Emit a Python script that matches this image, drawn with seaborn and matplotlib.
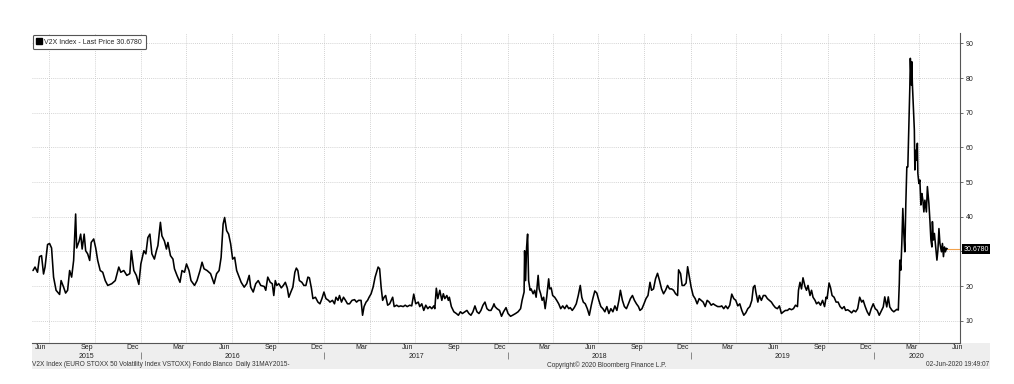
"""
V2X (VSTOXX) index, Bloomberg style line chart, 31-May-2015 to 02-Jun-2020
"""
import pandas as pd
import seaborn as sns
import matplotlib
matplotlib.use('Agg')
from matplotlib import pyplot as plt
import matplotlib.dates as mdates
from matplotlib.lines import Line2D
from matplotlib.patches import Rectangle
from matplotlib.ticker import FixedLocator, FixedFormatter, NullFormatter

sns.set_style('white')
plt.rcParams['font.family'] = ['Liberation Sans', 'DejaVu Sans']

# ---- data ----
start_date = '2015-05-31'
# days after 31-May-2015
days = [
    0, 4, 9, 13, 17, 21, 24, 29, 33, 37, 41, 46, 53, 56, 61, 65, 69, 73, 77, 81,
    85, 87, 92, 95, 98, 102, 105, 109, 113, 116, 121, 125, 129, 134, 139, 144, 149, 157, 164, 171,
    175, 181, 187, 193, 196, 201, 206, 211, 215, 221, 225, 229, 233, 237, 242, 246, 249, 254, 257, 262,
    266, 269, 274, 279, 282, 287, 293, 297, 302, 306, 311, 315, 322, 327, 333, 337, 341, 347, 354, 361,
    366, 371, 375, 379, 382, 386, 390, 394, 398, 402, 406, 411, 415, 421, 426, 431, 434, 439, 444, 449,
    454, 461, 464,
    465, 468, 473, 477, 480, 483, 486, 490, 495, 499, 503, 507, 510, 514, 518, 522, 525, 528, 531, 536,
    540, 544, 548, 551, 555, 558, 563, 568, 572, 576, 580, 584, 589, 592, 597, 601, 604, 608, 611, 615,
    619, 623, 627, 631, 636, 641, 645, 649, 654, 657, 660, 664, 667, 670, 674, 678, 682, 685, 688, 691,
    694, 697, 700, 703, 707, 711, 717, 720, 725, 729, 733, 738, 742, 746, 751, 755, 759, 763, 768, 771,
    775, 779, 783, 787, 791, 795, 799, 801, 804, 807, 811, 815, 818, 821, 825, 828, 830, 834, 839, 844,
    848, 852, 856, 861, 865, 869, 873, 877, 881, 885, 889, 893, 897, 901, 905, 909, 913, 917, 919,
    921, 925, 930, 934, 938, 943, 947, 952, 956, 962, 967, 972, 975, 979, 980, 982, 984, 986, 988, 991,
    993, 997, 1000, 1003, 1007, 1009, 1012, 1015, 1018, 1021, 1024, 1028, 1030, 1033, 1036, 1040, 1044, 1048, 1052, 1056,
    1060, 1064, 1068, 1071, 1075, 1079, 1083, 1087, 1091, 1094, 1097, 1101, 1105, 1109, 1113, 1116, 1120, 1124, 1128, 1132,
    1136, 1140, 1144, 1148, 1152, 1156, 1160, 1164, 1168, 1171, 1175, 1179, 1183, 1187, 1191, 1195, 1199, 1203, 1207, 1210,
    1214, 1218, 1222, 1226, 1230, 1233, 1237, 1241, 1245, 1249, 1253, 1257, 1261, 1265, 1269, 1273, 1277, 1281, 1285, 1287,
    1291, 1294, 1298, 1302, 1305, 1308, 1312, 1316, 1320, 1324, 1328, 1332, 1336, 1340, 1344, 1348, 1352, 1356, 1360, 1365,
    1370, 1373, 1377, 1381, 1385, 1389, 1393, 1397, 1401, 1405, 1409, 1413, 1417, 1421, 1425, 1429, 1433, 1436, 1439, 1441,
    1445, 1448, 1452, 1456, 1460, 1464, 1468, 1472, 1476, 1480, 1484, 1488, 1492, 1496, 1500, 1504, 1508, 1512, 1516, 1520,
    1524, 1526, 1529, 1532, 1535, 1539, 1542, 1545, 1549, 1552, 1555, 1559, 1562, 1566, 1570, 1574, 1578, 1581, 1583, 1587,
    1590, 1593, 1597, 1601, 1605, 1609, 1613, 1617, 1620, 1624, 1628, 1632, 1636, 1640, 1644, 1648, 1652, 1655, 1659, 1663,
    1667, 1671, 1675, 1679, 1683, 1687,
    1695, 1698, 1702, 1705, 1708, 1712, 1716, 1722, 1725, 1727, 1728, 1730, 1732, 1734, 1736, 1738, 1740, 1742, 1744, 1746,
    1748, 1749, 1751, 1752, 1753, 1755, 1757, 1758, 1760, 1761, 1763, 1764, 1766, 1768, 1770, 1772, 1774, 1776, 1778, 1781,
    1783, 1786, 1788, 1790, 1792, 1793, 1795, 1797, 1800, 1802, 1804, 1806, 1808, 1811, 1813, 1815, 1817, 1819, 1821, 1823,
]
v2x = [
    24.5, 25.5, 24.0, 28.5, 28.8, 23.5, 25.5, 32.0, 32.3, 31.0, 22.6, 18.8, 17.6, 21.6, 19.7, 18.0, 18.8, 24.5, 22.6, 27.4,
    40.8, 31.0, 33.0, 35.0, 30.7, 35.0, 30.2, 29.3, 27.4, 32.6, 33.6, 31.0, 27.4, 24.5, 24.0, 21.6, 20.2, 20.7, 21.6, 25.5,
    24.0, 24.5, 23.1, 23.6, 30.2, 24.5, 23.1, 20.5, 26.4, 30.2, 29.3, 34.0, 35.0, 29.3, 27.8, 30.2, 31.7, 38.4, 34.5, 33.0,
    30.7, 32.6, 28.8, 27.8, 25.0, 23.1, 21.1, 24.5, 24.0, 26.4, 24.5, 21.6, 20.2, 21.6, 24.5, 26.9, 25.0, 24.5, 23.6, 20.7,
    23.6, 24.5, 28.3, 37.9, 39.8, 36.0, 35.0, 32.2, 27.8, 28.3, 24.5, 22.6, 21.1, 19.7, 20.7, 23.1, 19.7, 18.3, 20.7, 21.6,
    20.2, 19.9, 18.8,
    19.7, 22.6, 21.1, 20.7, 17.3, 21.6, 20.2, 20.7, 19.5, 20.2, 21.1, 19.4, 16.8, 18.3, 19.7, 24.0, 25.2, 24.5, 21.6, 21.1,
    20.2, 20.2, 22.6, 22.4, 19.4, 16.4, 16.8, 15.4, 14.9, 16.4, 18.3, 16.4, 15.9, 15.4, 15.9, 14.9, 16.8, 15.9, 17.3, 15.4,
    16.8, 15.9, 14.9, 14.9, 15.9, 16.1, 15.4, 15.9, 15.9, 11.6, 14.1, 15.4, 15.9, 16.8, 17.8, 19.7, 22.6, 24.0, 25.5, 25.0,
    19.7, 15.9, 16.8, 17.3, 14.5, 14.9, 16.8, 14.1, 14.5, 14.1, 14.3, 14.1, 14.5, 14.1, 14.5, 14.3, 17.7, 14.9, 15.4, 14.1,
    14.9, 13.0, 14.5, 13.5, 14.1, 13.5, 14.3, 13.5, 19.4, 16.4, 18.8, 15.9, 17.8, 16.4, 17.3, 15.9, 16.8, 14.1, 12.6, 12.1,
    11.6, 12.6, 12.1, 12.6, 13.0, 12.1, 11.6, 12.6, 14.3, 12.6, 12.1, 13.0, 14.5, 15.4, 13.5, 13.0, 13.0, 14.1, 14.9,
    14.1, 13.5, 13.0, 11.3, 12.6, 13.8, 12.1, 11.3, 11.6, 12.1, 12.6, 13.5, 15.9, 18.3, 30.2, 21.6, 31.2, 35.0, 21.6, 18.8,
    19.2, 17.8, 18.8, 16.8, 23.1, 19.2, 17.8, 15.9, 16.8, 13.5, 16.8, 22.1, 19.2, 19.5, 17.3, 16.8, 15.9, 14.9, 13.5, 14.3,
    13.5, 14.5, 13.5, 13.8, 13.0, 13.8, 14.9, 17.3, 20.2, 16.8, 15.4, 14.9, 13.5, 11.6, 14.5, 16.4, 18.6, 18.0, 15.9, 14.1,
    13.5, 12.6, 14.1, 12.1, 13.5, 12.6, 14.3, 13.0, 15.9, 18.8, 15.9, 14.1, 13.5, 14.9, 16.4, 17.3, 15.9, 14.9, 14.1, 13.0,
    13.5, 14.9, 16.4, 17.3, 21.1, 18.8, 19.2, 22.1, 23.7, 21.6, 19.2, 17.8, 18.8, 20.2, 19.2, 19.2, 18.8, 17.8, 17.3, 24.7,
    23.6, 20.2, 20.2, 20.9, 25.6, 23.1, 19.7, 17.3, 16.4, 14.9, 16.4, 15.9, 15.4, 14.1, 15.9, 15.4, 14.5, 14.9, 14.5, 14.1,
    14.1, 14.3, 13.5, 14.3, 13.5, 14.5, 17.7, 16.4, 15.9, 14.3, 14.9, 13.0, 11.6, 12.3, 13.5, 14.1, 15.9, 19.7, 20.2, 18.3,
    15.4, 17.3, 15.9, 17.3, 17.3, 16.4, 15.9, 15.4, 14.5, 13.8, 13.5, 14.3, 12.1, 12.6, 13.0, 13.0, 13.5, 13.2, 13.5, 14.5,
    14.1, 18.8, 21.1, 19.2, 22.4, 19.9, 18.8, 20.2, 17.3, 18.8, 16.8, 15.9, 14.9, 15.4, 14.5, 15.9, 14.1, 16.8, 16.4, 20.9,
    19.5, 17.3, 16.8, 15.4, 15.4, 14.1, 13.5, 14.1, 13.0, 13.2, 12.8, 12.3, 13.0, 12.6, 13.5, 16.8, 15.4, 15.9, 14.1, 12.6,
    11.6, 13.5, 14.9, 13.5, 13.0, 11.6,
    14.0, 16.9, 14.0, 16.9, 14.0, 13.1, 12.6, 13.3, 13.1, 20.8, 27.5, 24.6, 32.3, 42.4, 35.2, 29.9, 43.8, 54.4, 54.4, 66.0,
    77.5, 85.7, 78.0, 84.7, 78.5, 71.7, 65.0, 53.5, 59.2, 56.3, 61.2, 52.5, 49.6, 50.6, 43.4, 46.7, 44.8, 41.4, 44.8, 41.4,
    48.7, 43.8, 39.0, 33.3, 31.3, 38.6, 33.3, 35.2, 30.4, 27.5, 30.4, 36.6, 32.3, 29.9, 32.3, 28.5, 31.3, 29.9, 30.9, 30.678,
]
y_ticks = [10, 20, 30, 40, 50, 60, 70, 80, 90]
label_months = [3, 6, 9, 12]
years = [2015, 2016, 2017, 2018, 2019, 2020]

legend_name = 'V2X Index'
footer_left = 'V2X Index (EURO STOXX 50 Volatility Index VSTOXX) Fondo Blanco  Daily 31MAY2015-'
footer_mid = 'Copyright\u00a9 2020 Bloomberg Finance L.P.'
footer_right = '02-Jun-2020 19:49:07'

FS = 4.8  # small Bloomberg-style text

# ---- frame ----
start = pd.Timestamp(start_date)
df = pd.DataFrame({'date': start + pd.to_timedelta(days, unit='D'), 'v2x': v2x})
last_date = df['date'].iloc[-1]
last = df['v2x'].iloc[-1]
x_left = start - pd.Timedelta(days=2)
x_right = start + pd.Timedelta(days=1848)

W, H = 1014, 384
fig = plt.figure(figsize=(W / 100, H / 100), dpi=100)
ax = fig.add_axes([32 / W, 41 / H, 928 / W, 310 / H])

# grey band under the time axis
fig.add_artist(Rectangle((32 / W, 15 / H), 958 / W, 26 / H, transform=fig.transFigure,
                         facecolor='#eeeeee', edgecolor='none', zorder=-1))

sns.lineplot(data=df, x='date', y='v2x', color='black', linewidth=1.15, ax=ax, legend=False)

ax.set_xlim(x_left, x_right)
ax.set_ylim(3.6, 93)
ax.set_xlabel('')
ax.set_ylabel('')

# y axis on the right; the last-price tag takes the place of the tick label next to it
ax.yaxis.tick_right()
ax.yaxis.set_major_locator(FixedLocator(y_ticks))
ax.yaxis.set_major_formatter(FixedFormatter(
    ['' if abs(t - last) < 4 else str(t) for t in y_ticks]))
ax.tick_params(axis='y', length=2.5, width=0.6, color='#555555', labelsize=FS + 0.2, pad=1.5,
               labelcolor='#222222')

# x axis: grid at quarter starts, small marks at every month start
ax.xaxis.set_major_locator(mdates.MonthLocator(bymonth=[1, 4, 7, 10]))
ax.xaxis.set_minor_locator(mdates.MonthLocator())
ax.xaxis.set_major_formatter(NullFormatter())
ax.xaxis.set_minor_formatter(NullFormatter())
ax.tick_params(axis='x', which='both', length=2, width=0.6, color='#666666', direction='out')

ax.grid(True, which='major', linestyle=(0, (1, 1.5)), color='#c4c4c4', linewidth=0.6)

for side in ['left', 'top']:
    ax.spines[side].set_visible(False)
for side in ['right', 'bottom']:
    ax.spines[side].set_color('#555555')
    ax.spines[side].set_linewidth(0.8)

# month labels centred in Mar / Jun / Sep / Dec
month_pos, month_txt = [], []
for m in pd.date_range(start, x_right, freq='MS'):
    if m.month in label_months:
        mid = m + (m + pd.offsets.MonthBegin(1) - m) / 2
        month_pos.append(mdates.date2num(mid))
        month_txt.append(m.strftime('%b'))
sec_m = ax.secondary_xaxis(0)
sec_m.xaxis.set_major_locator(FixedLocator(month_pos))
sec_m.xaxis.set_major_formatter(FixedFormatter(month_txt))
sec_m.xaxis.set_minor_locator(FixedLocator([]))
sec_m.tick_params(length=0, pad=1.0, labelsize=FS + 0.2, labelcolor='#222222')
sec_m.spines[:].set_visible(False)

# year labels centred in the visible part of each year, separators on 1-Jan
xl, xr = ax.get_xlim()
jan1 = [mdates.date2num(pd.Timestamp(f'{y}-01-01')) for y in years[1:]]
edges = [xl] + jan1 + [xr]
year_pos = [(a + b) / 2 for a, b in zip(edges[:-1], edges[1:])]
sec_y = ax.secondary_xaxis(-0.029)
sec_y.xaxis.set_major_locator(FixedLocator(jan1))
sec_y.xaxis.set_major_formatter(NullFormatter())
sec_y.xaxis.set_minor_locator(FixedLocator(year_pos))
sec_y.xaxis.set_minor_formatter(FixedFormatter([str(y) for y in years]))
sec_y.tick_params(which='major', length=5, width=0.6, color='#777777')
sec_y.tick_params(which='minor', length=0, pad=0.6, labelsize=FS + 0.2, labelcolor='#222222')
sec_y.spines[:].set_visible(False)

# last price line and tag
ax.hlines(last, last_date, x_right, color='#f2a24c', linewidth=0.8)
ax.annotate(f'{last:.4f}', xy=(1, last), xycoords=('axes fraction', 'data'),
            xytext=(2.6, 0), textcoords='offset points', ha='left', va='center',
            fontsize=FS + 0.2, color='white', annotation_clip=False,
            bbox=dict(boxstyle='square,pad=0.2', fc='black', ec='none'))

# legend
handle = Line2D([], [], marker='s', color='black', linestyle='none', markersize=4)
leg = ax.legend([handle], [f'{legend_name} - Last Price {last:.4f}'], loc='upper left',
                bbox_to_anchor=(0.001, 0.994), borderaxespad=0, fontsize=FS + 0.2, frameon=True,
                fancybox=True, edgecolor='#555555', framealpha=1, handlelength=0.7,
                handletextpad=0.4, borderpad=0.55)
leg.get_frame().set_linewidth(0.8)

# footer
fig.text(32 / W, 19 / H, footer_left, fontsize=FS - 0.1, color='#333333', ha='left', va='center')
fig.text(607 / W, 19 / H, footer_mid, fontsize=FS - 0.1, color='#333333', ha='center', va='center')
fig.text(989 / W, 19 / H, footer_right, fontsize=FS - 0.1, color='#333333', ha='right', va='center')

plt.savefig('out.png', dpi=100)
plt.close(fig)
